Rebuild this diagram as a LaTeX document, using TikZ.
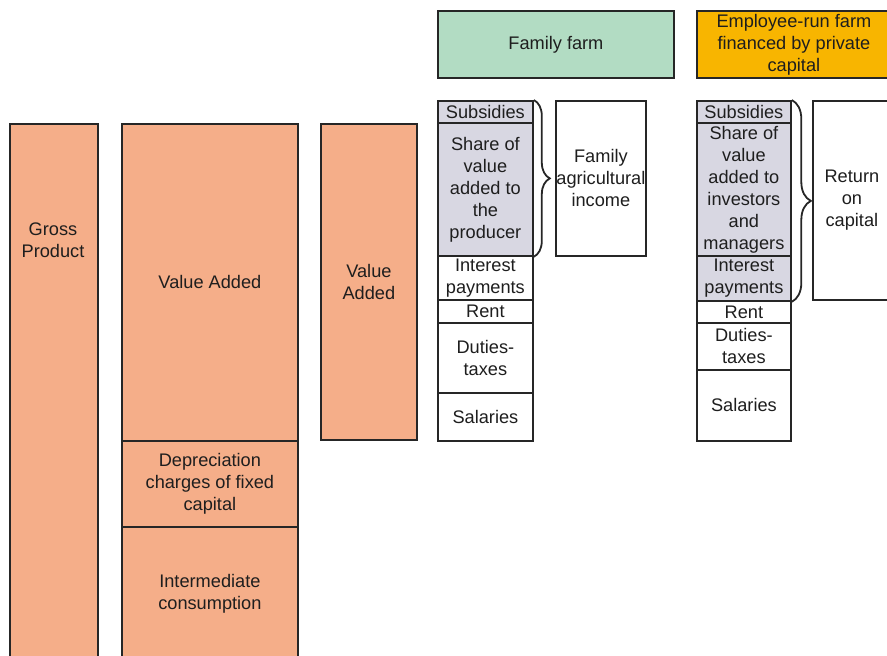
\documentclass[tikz,border=0pt]{standalone}
\usepackage{fontspec}
\setmainfont{Liberation Sans}
\usetikzlibrary{decorations.pathreplacing}
\definecolor{salmon}{HTML}{F5AE89}
\definecolor{famgreen}{HTML}{B2DCC3}
\definecolor{empor}{HTML}{F8B500}
\definecolor{lav}{HTML}{D8D7E2}
\definecolor{edge}{HTML}{262626}
\definecolor{txt}{HTML}{1E1E1E}
\begin{document}
\begin{tikzpicture}[x=1pt,y=-1pt,
  box/.style={draw=edge, line width=1.8pt, anchor=north west, inner sep=0pt,
    align=center, text=txt, font=\fontsize{18.2}{22}\selectfont},
  brc/.style={draw=edge, line width=1.8pt, decorate}]
\useasboundingbox (0,0) rectangle (887,656);
\clip (0,0) rectangle (887,656);
% left columns
\node[box, fill=salmon, minimum width=88pt, minimum height=560pt] (gp) at (9,123) {};
\node[text=txt, align=center, font=\fontsize{18.2}{22}\selectfont] (gptxt) at (53,240) {Gross\\Product};
\node[box, fill=salmon, minimum width=176pt, minimum height=317pt] (va1) at (121,123) {Value Added};
\node[box, fill=salmon, minimum width=176pt, minimum height=86pt] (dep) at (121,440) {Depreciation\\charges of fixed\\capital};
\node[box, fill=salmon, minimum width=176pt, minimum height=134pt] (ic) at (121,526) {Intermediate\\consumption};
\node[box, fill=salmon, minimum width=96pt, minimum height=316pt] (va2) at (320,123) {Value\\Added};
% headers
\node[box, fill=famgreen, minimum width=236pt, minimum height=67pt] (ff) at (437,10) {Family farm};
\node[box, fill=empor, minimum width=194pt, minimum height=67pt] (er) at (696,10) {Employee-run farm\\financed by private\\capital};
% family column
\node[box, fill=lav, minimum width=95pt, minimum height=22pt] (fsub) at (437,100) {Subsidies};
\node[box, fill=lav, minimum width=95pt, minimum height=133pt] (fsh) at (437,122) {Share of\\value\\added to\\the\\producer};
\node[box, fill=white, minimum width=95pt, minimum height=44pt] (fint) at (437,255) {Interest\\payments};
\node[box, fill=white, minimum width=95pt, minimum height=23pt] (frent) at (437,299) {Rent};
\node[box, fill=white, minimum width=95pt, minimum height=70pt] (fdut) at (437,322) {Duties-\\taxes};
\node[box, fill=white, minimum width=95pt, minimum height=48pt] (fsal) at (437,392) {Salaries};
\node[box, fill=white, minimum width=90pt, minimum height=155pt] (fam) at (555,100) {Family\\agricultural\\income};
\draw[brc, decoration={brace, amplitude=16pt}] (fsub.north east) -- (fsh.south east);
% employee column
\node[box, fill=lav, minimum width=94pt, minimum height=22pt] (esub) at (696,100) {Subsidies};
\node[box, fill=lav, minimum width=94pt, minimum height=133pt] (esh) at (696,122) {Share of\\value\\added to\\investors\\and\\managers};
\node[box, fill=lav, minimum width=94pt, minimum height=45pt] (eint) at (696,255) {Interest\\payments};
\node[box, fill=white, minimum width=94pt, minimum height=22pt] (erent) at (696,300) {Rent};
\node[box, fill=white, minimum width=94pt, minimum height=47pt] (edut) at (696,322) {Duties-\\taxes};
\node[box, fill=white, minimum width=94pt, minimum height=71pt] (esal) at (696,369) {Salaries};
\node[box, fill=white, minimum width=78pt, minimum height=199pt] (ret) at (812,100) {Return\\on\\capital};
\draw[brc, decoration={brace, amplitude=19pt}] (esub.north east) -- (eint.south east);
\end{tikzpicture}
\end{document}
